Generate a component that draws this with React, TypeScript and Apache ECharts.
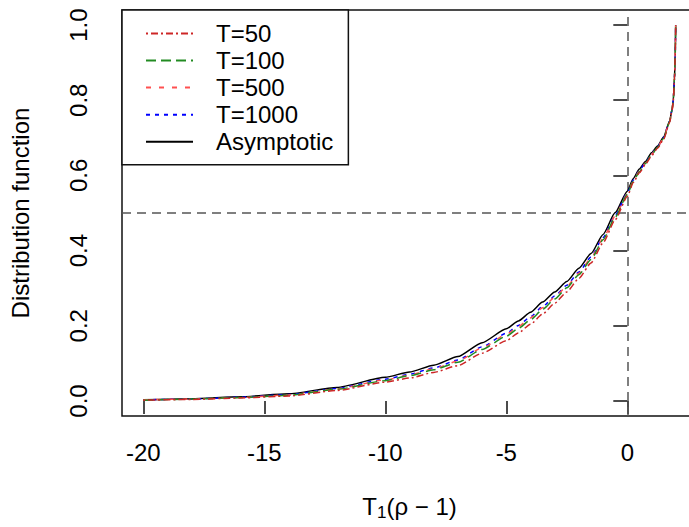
import { useEffect, useRef } from "react";
import * as echarts from "echarts";

const xs = [-20, -18, -16, -14, -12, -10, -9, -8, -7, -6, -5, -4.5, -4, -3.5, -3, -2.5, -2, -1.5, -1, -0.5, 0, 0.25, 0.5, 0.75, 1, 1.25, 1.5, 1.75, 1.85, 1.9, 1.95, 1.98, 2.0];

const t50 = [0.002, 0.004, 0.008, 0.013, 0.028, 0.050, 0.061, 0.076, 0.094, 0.127, 0.160, 0.181, 0.204, 0.231, 0.260, 0.290, 0.326, 0.367, 0.421, 0.482, 0.544, 0.581, 0.607, 0.629, 0.652, 0.672, 0.696, 0.741, 0.772, 0.798, 0.858, 0.919, 1.000];
const t100 = [0.002, 0.005, 0.009, 0.015, 0.031, 0.054, 0.067, 0.083, 0.103, 0.137, 0.172, 0.193, 0.216, 0.243, 0.271, 0.301, 0.336, 0.376, 0.429, 0.489, 0.549, 0.585, 0.610, 0.632, 0.655, 0.674, 0.698, 0.743, 0.774, 0.799, 0.859, 0.920, 1.000];
const t500 = [0.003, 0.005, 0.009, 0.016, 0.032, 0.056, 0.069, 0.086, 0.106, 0.141, 0.177, 0.198, 0.221, 0.248, 0.276, 0.305, 0.340, 0.380, 0.432, 0.492, 0.551, 0.587, 0.612, 0.633, 0.656, 0.675, 0.699, 0.744, 0.774, 0.800, 0.860, 0.920, 1.000];
const t1000 = [0.003, 0.005, 0.010, 0.017, 0.033, 0.058, 0.071, 0.088, 0.109, 0.144, 0.180, 0.201, 0.224, 0.251, 0.279, 0.308, 0.343, 0.383, 0.435, 0.494, 0.553, 0.588, 0.613, 0.634, 0.657, 0.676, 0.700, 0.744, 0.775, 0.800, 0.860, 0.920, 1.000];
const asym = [0.003, 0.006, 0.011, 0.019, 0.036, 0.063, 0.077, 0.095, 0.118, 0.155, 0.192, 0.213, 0.236, 0.263, 0.290, 0.318, 0.353, 0.392, 0.443, 0.501, 0.558, 0.592, 0.617, 0.637, 0.660, 0.678, 0.702, 0.745, 0.775, 0.800, 0.860, 0.920, 1.000];

const seriesNames = ["T=50", "T=100", "T=500", "T=1000", "Asymptotic"];
const xTicks = [-20, -15, -10, -5, 0];
const yTicks = [0, 0.2, 0.4, 0.6, 0.8, 1.0];
const refX = 0;
const refY = 0.5;

const FONT = "Liberation Sans, Arial, Helvetica, sans-serif";

export default function App() {
  const ref = useRef<HTMLDivElement>(null);
  useEffect(() => {
    const chart = echarts.init(ref.current!, null, { renderer: "svg" });
    const allY = [t50, t100, t500, t1000, asym];
    const colors = ["#cd2626", "#228b22", "#ff5050", "#0000ff", "#000000"];
    const dashes: any[] = [[2, 3, 7, 3], [10, 5], [5, 8], [4, 5], "solid"];
    const series: any[] = seriesNames.map((name, i) => ({
      name,
      type: "line",
      data: xs.map((x, j) => [x, allY[i][j]]),
      symbol: "none",
      smooth: 0.2,
      smoothMonotone: "x",
      clip: true,
      z: 10 - i,
      lineStyle: { color: colors[i], width: 1.5, type: dashes[i] },
      itemStyle: { color: colors[i] },
    }));
    series[4].markLine = {
      silent: true,
      symbol: "none",
      label: { show: false },
      lineStyle: { color: "#555555", width: 1.5, type: [9, 6] },
      data: [{ xAxis: refX }, { yAxis: refY }],
    };
    chart.setOption({
      animation: false,
      backgroundColor: "#ffffff",
      textStyle: { fontFamily: FONT },
      grid: {
        left: 122,
        top: 10,
        width: 575,
        height: 406,
        show: true,
        borderColor: "#111111",
        borderWidth: 1.5,
        backgroundColor: "transparent",
      },
      legend: {
        orient: "vertical",
        left: 122,
        top: 10,
        data: seriesNames,
        backgroundColor: "#ffffff",
        borderColor: "#111111",
        borderWidth: 1.5,
        padding: [11.4, 15, 11, 23],
        itemWidth: 47,
        itemHeight: 12,
        itemGap: 3.1,
        z: 20,
        itemStyle: { opacity: 0 },
        textStyle: {
          fontFamily: FONT,
          fontSize: 24,
          color: "#000",
          padding: [0, 0, 0, 18],
        },
      },
      xAxis: {
        type: "value",
        min: -20.88,
        max: 2.88,
        splitLine: { show: false },
        axisLine: { show: false },
        axisTick: {
          show: true,
          length: 13,
          customValues: xTicks,
          lineStyle: { color: "#111", width: 1.5 },
        },
        axisLabel: {
          customValues: xTicks,
          fontSize: 24,
          fontFamily: FONT,
          color: "#000",
          margin: 24,
          formatter: (v: number) => String(v),
        },
        name: "{a|T}{b|1}{a|(ρ − 1)}",
        nameLocation: "middle",
        nameGap: 75,
        nameTextStyle: {
          rich: {
            a: { fontSize: 24, fontFamily: FONT, color: "#000", lineHeight: 30, verticalAlign: "middle" },
            b: { fontSize: 17, fontFamily: FONT, color: "#000", lineHeight: 17, verticalAlign: "bottom" },
          },
        },
      },
      yAxis: {
        type: "value",
        min: -0.04,
        max: 1.04,
        splitLine: { show: false },
        axisLine: { show: false },
        axisTick: {
          show: true,
          length: 14,
          customValues: yTicks,
          lineStyle: { color: "#111", width: 1.5 },
        },
        axisLabel: {
          customValues: yTicks,
          rotate: 90,
          fontSize: 24,
          fontFamily: FONT,
          color: "#000",
          margin: 32,
          formatter: (v: number) => v.toFixed(1),
        },
        name: "Distribution function",
        nameLocation: "middle",
        nameRotate: 90,
        nameGap: 90,
        nameTextStyle: { fontSize: 24, fontFamily: FONT, color: "#000" },
      },
      series,
    });
    return () => chart.dispose();
  }, []);
  return (
    <div style={{ position: "absolute", left: 0, top: 0, width: 689, height: 527, overflow: "hidden", background: "#fff" }}>
      <div ref={ref} style={{ width: 710, height: 527 }} />
    </div>
  );
}
